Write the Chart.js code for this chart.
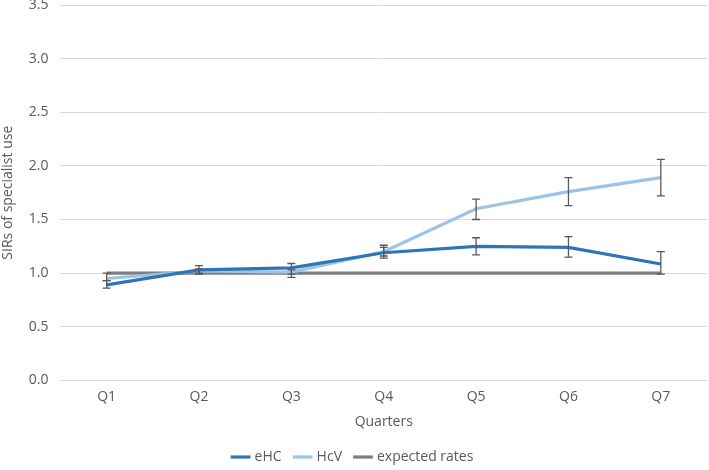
<!DOCTYPE html>
<html>
<head>
<meta charset="utf-8">
<script src="https://cdn.jsdelivr.net/npm/chart.js@4"></script>
<style>
  html, body { margin: 0; padding: 0; background: #fff; }
  #wrap { width: 709px; height: 470px; }
</style>
</head>
<body>
<div id="wrap"><canvas id="sirChart" width="709" height="470"></canvas></div>
<script>
const quarters = ['Q1', 'Q2', 'Q3', 'Q4', 'Q5', 'Q6', 'Q7'];
const eHC = [0.89, 1.03, 1.05, 1.19, 1.25, 1.24, 1.085];
const eHCLow = [0.86, 0.99, 0.96, 1.14, 1.17, 1.15, 0.99];
const eHCHigh = [0.93, 1.07, 1.09, 1.26, 1.33, 1.34, 1.20];
const hcV = [0.95, 1.02, 1.01, 1.20, 1.60, 1.76, 1.89];
const hcVLow = [0.93, 1.00, 0.99, 1.16, 1.50, 1.63, 1.72];
const hcVHigh = [1.00, 1.04, 1.03, 1.24, 1.69, 1.89, 2.06];
const expected = [1, 1, 1, 1, 1, 1, 1];
const yTicks = [0, 0.5, 1, 1.5, 2, 2.5, 3, 3.5];

const textGrey = '#595959';
const fontFamily = 'Open Sans, sans-serif';

// whiskers drawn through the y scale, like Excel error bars
const errorBars = {
  id: 'error-bars',
  afterDatasetsDraw(chart) {
    const c = chart.ctx;
    const y = chart.scales.y;
    c.save();
    c.strokeStyle = '#595959';
    c.lineWidth = 1.3;
    chart.data.datasets.forEach((ds, di) => {
      if (!ds.low) return;
      const meta = chart.getDatasetMeta(di);
      meta.data.forEach((pt, i) => {
        const top = y.getPixelForValue(ds.high[i]);
        const bot = y.getPixelForValue(ds.low[i]);
        c.beginPath();
        c.moveTo(pt.x, top); c.lineTo(pt.x, bot);
        c.moveTo(pt.x - 4, top); c.lineTo(pt.x + 4, top);
        c.moveTo(pt.x - 4, bot); c.lineTo(pt.x + 4, bot);
        c.stroke();
      });
    });
    c.restore();
  }
};

new Chart(document.getElementById('sirChart').getContext('2d'), {
  type: 'line',
  data: {
    labels: quarters,
    datasets: [
      { label: 'eHC', data: eHC, low: eHCLow, high: eHCHigh, borderColor: '#2e75b6', backgroundColor: '#2e75b6', borderWidth: 3.2, pointRadius: 0, tension: 0, order: 1 },
      { label: 'HcV', data: hcV, low: hcVLow, high: hcVHigh, borderColor: '#9dc3e6', backgroundColor: '#9dc3e6', borderWidth: 3.2, pointRadius: 0, tension: 0, order: 2 },
      { label: 'expected rates', data: expected, borderColor: '#7f7f7f', backgroundColor: '#7f7f7f', borderWidth: 3.2, pointRadius: 0, tension: 0, order: 3 }
    ]
  },
  options: {
    responsive: false,
    animation: false,
    layout: { padding: { top: 5, right: 2, left: 0, bottom: -4 } },
    plugins: {
      legend: {
        position: 'bottom',
        labels: {
          color: textGrey,
          font: { family: fontFamily, size: 14 },
          usePointStyle: true,
          pointStyle: 'line',
          boxWidth: 28,
          padding: 14
        }
      },
      tooltip: { enabled: false }
    },
    scales: {
      x: {
        offset: true,
        grid: { display: false },
        border: { display: false },
        ticks: { color: textGrey, font: { family: fontFamily, size: 14 }, padding: 0 },
        title: { display: true, text: 'Quarters', color: textGrey, font: { family: fontFamily, size: 14 }, padding: { top: 8, bottom: 6 } }
      },
      y: {
        min: 0,
        max: 3.5,
        afterBuildTicks(axis) { axis.ticks = yTicks.map(v => ({ value: v })); },
        afterFit(axis) { axis.paddingTop = 0; },
        grid: { color: '#d9d9d9', drawTicks: false },
        border: { display: false },
        ticks: { color: textGrey, font: { family: fontFamily, size: 14 }, padding: 12, callback: v => v.toFixed(1) },
        title: { display: true, text: 'SIRs of specialist use', color: textGrey, font: { family: fontFamily, size: 14 }, padding: { top: 0, bottom: 0 } }
      }
    }
  },
  plugins: [errorBars]
});
</script>
</body>
</html>
